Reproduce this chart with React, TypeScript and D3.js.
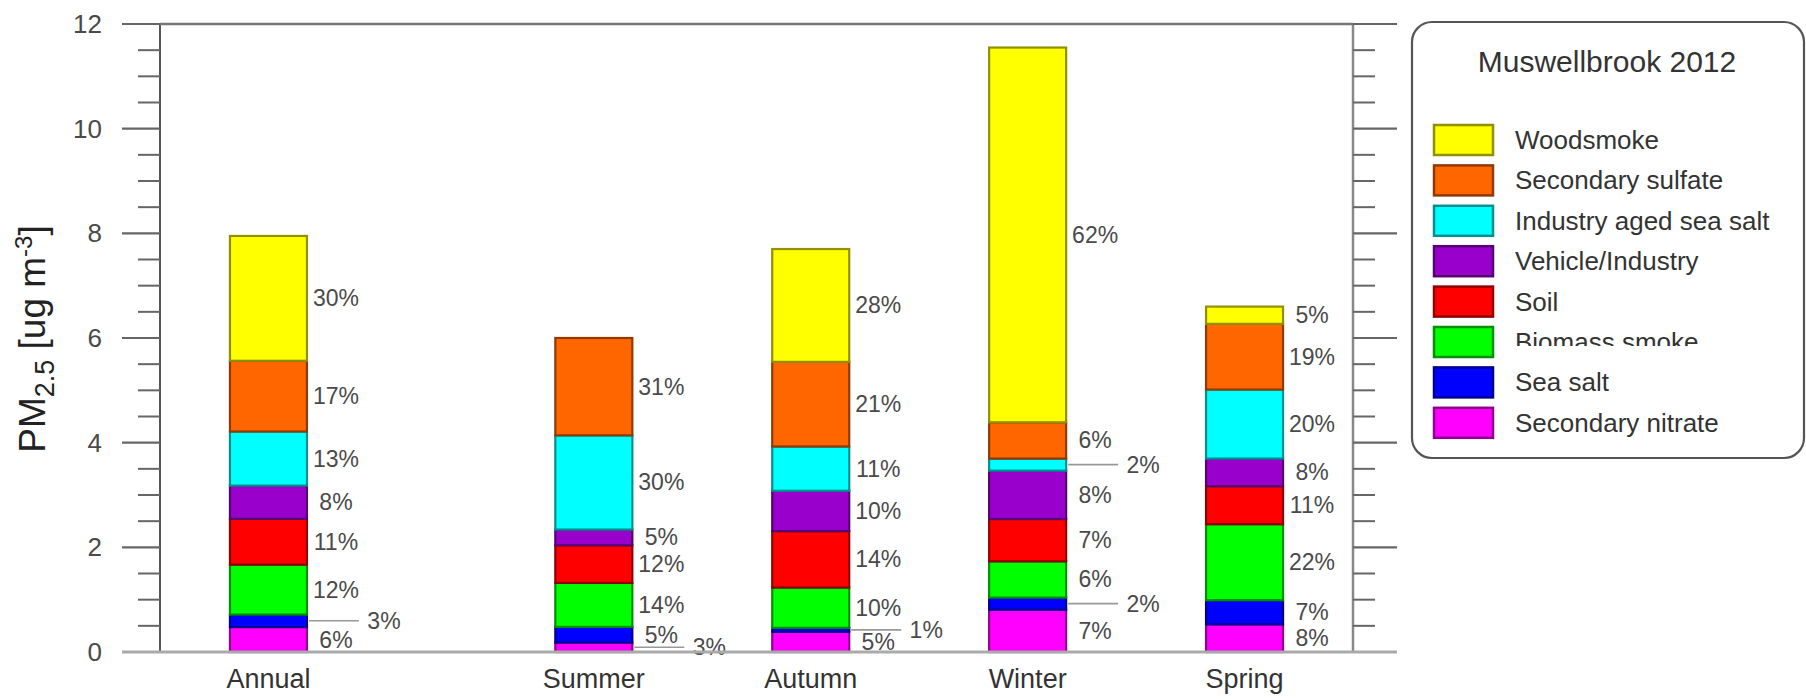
import React from "react";
import * as d3 from "d3";

// Seasonal PM2.5 source apportionment, Muswellbrook 2012
const categories = ["Annual", "Summer", "Autumn", "Winter", "Spring"];
const categoryPositions = [0, 1.5, 2.5, 3.5, 4.5];
const totals = [7.95, 6.0, 7.7, 11.55, 6.6]; // ug m-3

const sources = [
  "Woodsmoke",
  "Secondary sulfate",
  "Industry aged sea salt",
  "Vehicle/Industry",
  "Soil",
  "Biomass smoke",
  "Sea salt",
  "Secondary nitrate",
];
const sourceColors = [
  "#ffff00",
  "#ff6600",
  "#00ffff",
  "#9900cc",
  "#ff0000",
  "#00ff00",
  "#0000ff",
  "#ff00ff",
];

// Percentage share of each source per category
const woodsmoke = [30, 0, 28, 62, 5];
const secondarySulfate = [17, 31, 21, 6, 19];
const industryAgedSeaSalt = [13, 30, 11, 2, 20];
const vehicleIndustry = [8, 5, 10, 8, 8];
const soil = [11, 12, 14, 7, 11];
const biomassSmoke = [12, 14, 10, 6, 22];
const seaSalt = [3, 5, 1, 2, 7];
const secondaryNitrate = [6, 3, 5, 7, 8];

const shares = [
  woodsmoke,
  secondarySulfate,
  industryAgedSeaSalt,
  vehicleIndustry,
  soil,
  biomassSmoke,
  seaSalt,
  secondaryNitrate,
];

// Thin segments whose labels are pulled out with a leader line
const calloutLabels: [string, string][] = [
  ["Annual", "Sea salt"],
  ["Summer", "Secondary nitrate"],
  ["Autumn", "Sea salt"],
  ["Winter", "Industry aged sea salt"],
  ["Winter", "Sea salt"],
];

const yMajorTicks = [0, 2, 4, 6, 8, 10, 12];
const legendTitle = "Muswellbrook 2012";
const legendClippedEntry = "Biomass smoke";

const W = 1806;
const H = 699;
const FONT = "'Liberation Sans', Arial, Helvetica, sans-serif";

export default function App() {
  const plotLeft = 160;
  const plotRight = 1353;
  const plotTop = 24;
  const plotBottom = 652;

  const x = d3.scaleLinear().domain([-0.5, 5]).range([plotLeft, plotRight]);
  const y = d3.scaleLinear().domain([0, 12]).range([plotBottom, plotTop]);
  const barW = 77;

  const rows = categories.map((c, i) => {
    const row: any = { category: c, pos: categoryPositions[i] };
    sources.forEach((s, k) => {
      row[s] = (totals[i] * shares[k][i]) / 100;
    });
    return row;
  });

  const stackKeys = [...sources].reverse();
  const stacked = d3.stack<any>().keys(stackKeys)(rows);

  const colorOf = (s: string) => sourceColors[sources.indexOf(s)];
  const shareOf = (s: string, ci: number) => shares[sources.indexOf(s)][ci];

  const minorTicks = d3.range(0, 12.001, 0.5).filter((v) => v % 2 !== 0);

  const legendX = 1412;
  const legendY = 22;
  const legendW = 392;
  const legendH = 436;
  const rowStep = 40.4;
  const firstRow = 140;

  return (
    <svg
      width={W}
      height={H}
      style={{ position: "absolute", left: 0, top: 0, background: "#fff" }}
      fontFamily={FONT}
    >
      <defs>
        {sources.map((s, i) =>
          s === legendClippedEntry ? (
            <clipPath id="legend-clip" key={s}>
              <rect x={legendX} y={firstRow + i * rowStep - 20} width={legendW} height={24} />
            </clipPath>
          ) : null
        )}
      </defs>

      {/* stacked bars */}
      {stacked.map((series) => {
        const src = series.key;
        const fill = colorOf(src);
        const stroke = d3.color(fill)!.darker(1.6).formatHex();
        return (
          <g key={src}>
            {series.map((d, ci) => {
              const h = y(d[0]) - y(d[1]);
              if (h <= 0) return null;
              return (
                <rect
                  key={ci}
                  x={x(d.data.pos) - barW / 2}
                  y={y(d[1])}
                  width={barW}
                  height={h}
                  fill={fill}
                  stroke={stroke}
                  strokeWidth={2.2}
                />
              );
            })}
          </g>
        );
      })}

      {/* percentage labels */}
      {stacked.map((series) => {
        const src = series.key;
        return (
          <g key={"lab-" + src}>
            {series.map((d, ci) => {
              const pct = shareOf(src, ci);
              if (pct <= 0) return null;
              const cy = y((d[0] + d[1]) / 2);
              const right = x(d.data.pos) + barW / 2;
              const callout = calloutLabels.some(
                ([c, s]) => c === d.data.category && s === src
              );
              return (
                <g key={ci}>
                  {callout && (
                    <line
                      x1={right + 2}
                      x2={right + 52}
                      y1={cy}
                      y2={cy}
                      stroke="#999"
                      strokeWidth={1.6}
                    />
                  )}
                  <text
                    x={right + (callout ? 77 : 29)}
                    y={cy}
                    textAnchor="middle"
                    dominantBaseline="central"
                    fontSize={23}
                    fill="#4a4a4a"
                  >
                    {pct}%
                  </text>
                </g>
              );
            })}
          </g>
        );
      })}

      {/* frame and ticks */}
      <line x1={plotLeft} x2={plotLeft} y1={plotTop} y2={plotBottom} stroke="#555" strokeWidth={2} />
      <line x1={plotRight} x2={plotRight} y1={plotTop} y2={plotBottom} stroke="#888" strokeWidth={2.5} />
      {yMajorTicks.map((v) => (
        <g key={"maj" + v}>
          <line x1={plotLeft - 38} x2={plotLeft} y1={y(v)} y2={y(v)} stroke="#666" strokeWidth={2.2} />
          <line x1={plotRight} x2={plotRight + 44} y1={y(v)} y2={y(v)} stroke="#666" strokeWidth={2.2} />
          <text
            x={102}
            y={y(v)}
            textAnchor="end"
            dominantBaseline="central"
            fontSize={26}
            fill="#4a4a4a"
          >
            {v}
          </text>
        </g>
      ))}
      {minorTicks.map((v) => (
        <g key={"min" + v}>
          <line x1={plotLeft - 22} x2={plotLeft} y1={y(v)} y2={y(v)} stroke="#666" strokeWidth={2} />
          <line x1={plotRight} x2={plotRight + 22} y1={y(v)} y2={y(v)} stroke="#666" strokeWidth={2} />
        </g>
      ))}
      <line x1={plotLeft} x2={plotRight} y1={y(12)} y2={y(12)} stroke="#777" strokeWidth={2.4} />
      <line x1={plotLeft - 38} x2={plotRight + 44} y1={y(0)} y2={y(0)} stroke="#aaa" strokeWidth={3} />

      {/* category labels */}
      {categories.map((c, i) => (
        <text
          key={c}
          x={x(categoryPositions[i])}
          y={688}
          textAnchor="middle"
          fontSize={27}
          fill="#333"
        >
          {c}
        </text>
      ))}

      {/* y-axis title */}
      <text transform="translate(45,339) rotate(-90)" textAnchor="middle" fontSize={37} fill="#222">
        PM
        <tspan fontSize={27} dy={9}>2.5</tspan>
        <tspan dy={-9}> [ug m</tspan>
        <tspan fontSize={24} dy={-13}>-3</tspan>
        <tspan dy={13}>]</tspan>
      </text>

      {/* legend */}
      <rect
        x={legendX}
        y={legendY}
        width={legendW}
        height={legendH}
        rx={20}
        ry={20}
        fill="#fff"
        stroke="#555"
        strokeWidth={2.2}
      />
      <text x={1607} y={72} textAnchor="middle" fontSize={30} fill="#333">
        {legendTitle}
      </text>
      {sources.map((s, i) => {
        const cy = firstRow + i * rowStep;
        const fill = sourceColors[i];
        return (
          <g key={"leg" + s}>
            <rect
              x={1434}
              y={cy - 15}
              width={59}
              height={30}
              fill={fill}
              stroke={d3.color(fill)!.darker(1.6).formatHex()}
              strokeWidth={2.5}
            />
            <text
              x={1515}
              y={cy}
              dominantBaseline="central"
              fontSize={26}
              fill="#333"
              clipPath={s === legendClippedEntry ? "url(#legend-clip)" : undefined}
            >
              {s}
            </text>
          </g>
        );
      })}
    </svg>
  );
}
